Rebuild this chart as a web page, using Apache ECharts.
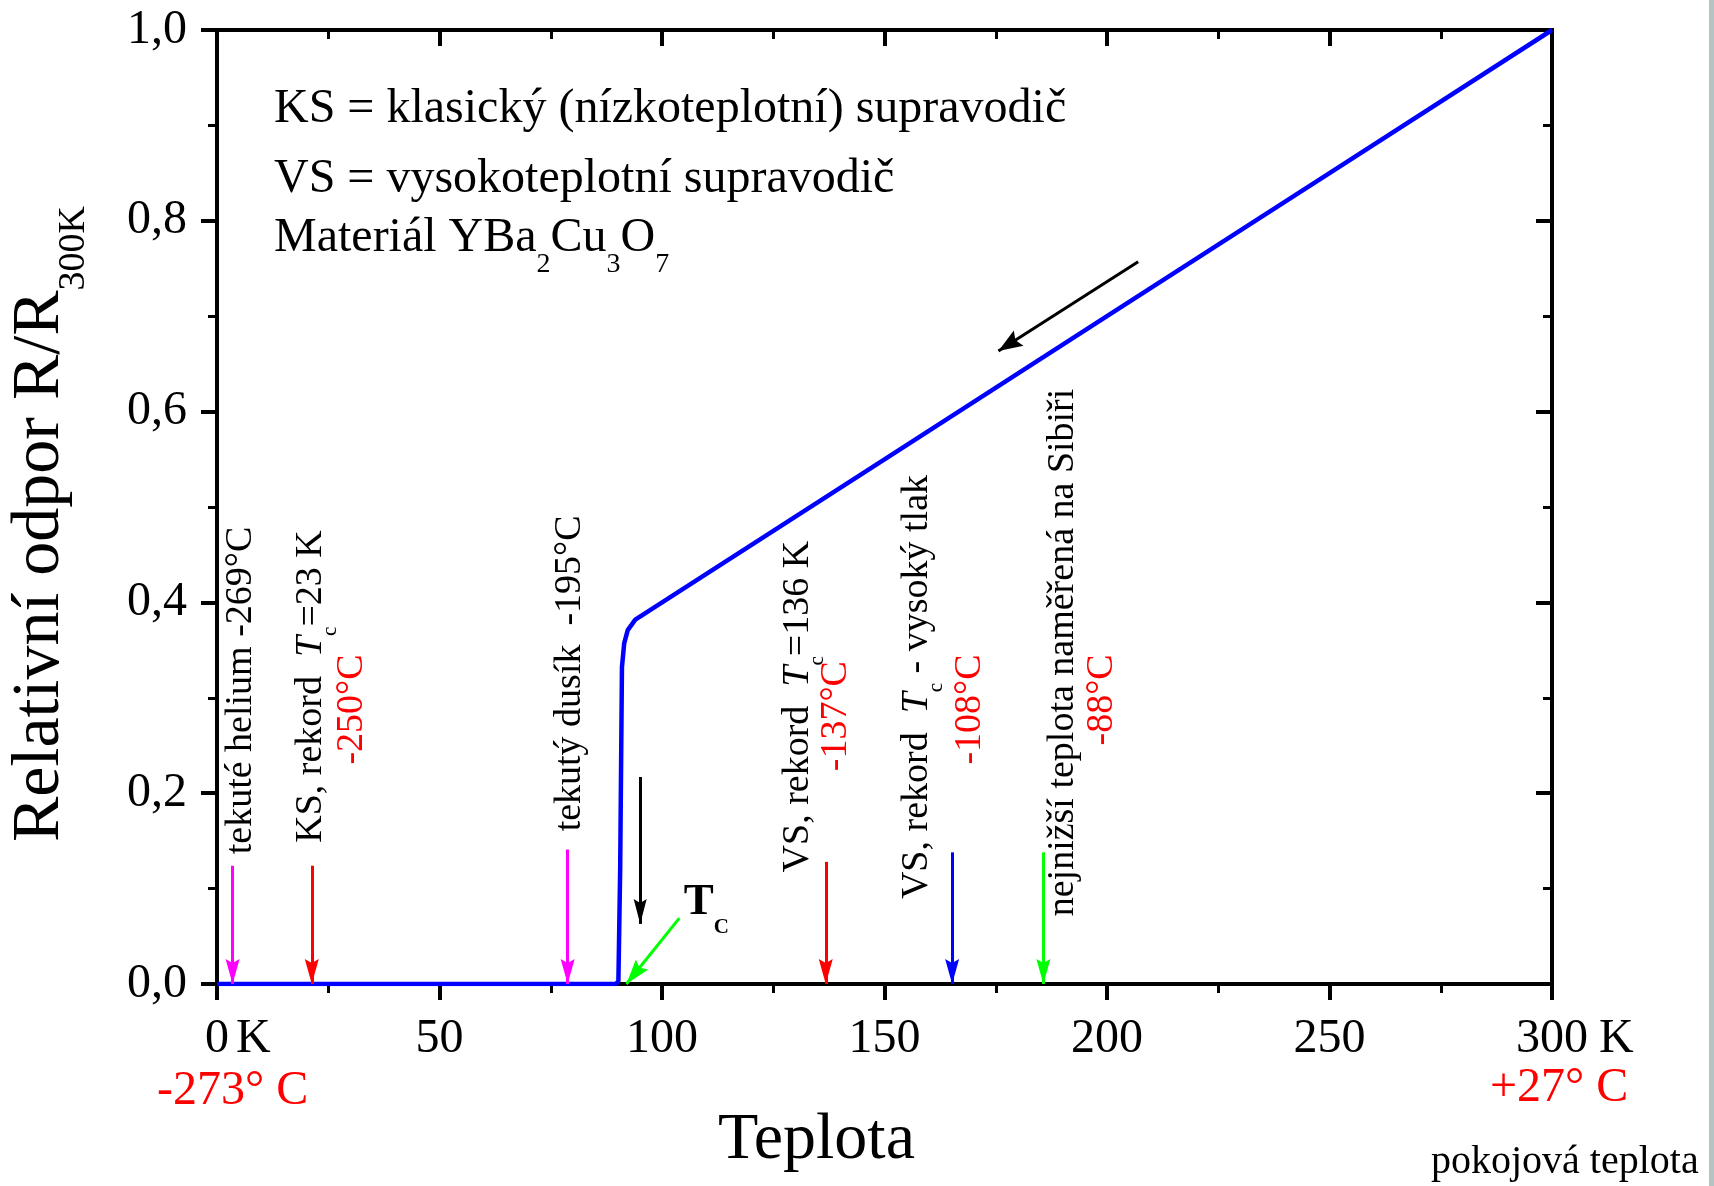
<!DOCTYPE html>
<html>
<head>
<meta charset="utf-8">
<script src="https://cdn.jsdelivr.net/npm/echarts@6/dist/echarts.min.js"></script>
<style>
html,body{margin:0;padding:0;background:#fff;}
#c{width:1714px;height:1186px;}
</style>
</head>
<body>
<div id="c"></div>
<script>
// ---- data ----
const temperatureK = [0, 89.7, 90.2, 90.6, 91.0, 91.5, 92.3, 94.0, 150, 200, 250, 300];
const relResistance = [0, 0, 0.003, 0.12, 0.332, 0.357, 0.371, 0.382, 0.55, 0.70, 0.85, 1.0];
const xTickValues = [0, 50, 100, 150, 200, 250, 300];
const yTickValues = [0, 0.2, 0.4, 0.6, 0.8, 1.0];

// annotation arrows (data coordinates)
const arrowT0 = [3.5, 21.3, 78.8, 136.8, 165.2, 185.7, 95.1, 103.9, 207.0];
const arrowR0 = [0.124, 0.124, 0.141, 0.128, 0.138, 0.138, 0.217, 0.069, 0.757];
const arrowT1 = [3.5, 21.3, 78.8, 136.8, 165.2, 185.7, 95.1, 92.0, 175.6];
const arrowR1 = [0, 0, 0, 0, 0, 0, 0.063, 0, 0.6635];

// annotation texts (anchor = start of the vertical text, data coordinates)
const noteText = [
  'tekuté helium -269°C',
  '{n|KS, rekord  }{i|T}{s|c}{n|=23 K}',
  '-250°C',
  'tekutý dusík  -195°C',
  '{n|VS, rekord  }{i|T}{s|c}{n|=136 K}',
  '-137°C',
  '{n|VS, rekord  }{i|T}{s|c}{n| - vysoký tlak}',
  '-108°C',
  'nejnižší teplota naměřená na Sibiři',
  '-88°C'
];
const noteT = [5.4, 21.1, 30.3, 79.3, 130.6, 139.2, 157.3, 169.2, 190.2, 198.8];
const noteR = [0.136, 0.148, 0.23, 0.16, 0.117, 0.223, 0.089, 0.23, 0.071, 0.25];
const tcLabelT = 104.9, tcLabelR = 0.0856;

// ---- styles ----
const FONT = '"Liberation Serif", "Times New Roman", serif';
const arrowColor = ['#ff00ff', '#ff0000', '#ff00ff', '#ff0000', '#0000ff', '#00ff00', '#000000', '#00ff00', '#000000'];
const arrowHead = [[14,25],[14,25],[14,25],[14,25],[14,25],[14,25],[13,25],[16,25],[18,24]];
const noteColor = ['#000','#000','#f00','#000','#000','#f00','#000','#f00','#000','#f00'];
const ARROW = 'path://M0,25 L7,0 L14,25 L7,21 Z';

const chart = echarts.init(document.getElementById('c'), null, {renderer: 'canvas', width: 1714, height: 1186});

const fmtY = v => v.toFixed(1).replace('.', ',');
const fmtX = v => v === 0 ? '{p0|}{n|0}{k0|K}' : (v === 300 ? '{p3|}{n|300}{k3|K}' : '{n|' + v + '}');

function axisBase(pos, inside) {
  return {
    type: 'value',
    position: pos,
    axisLine: {show: true, onZero: false, lineStyle: {color: '#000', width: 4, cap: 'square'}},
    axisTick: {show: true, inside: inside, length: 16, lineStyle: {color: '#000', width: 4}},
    minorTick: {show: true, splitNumber: 2, length: 9, lineStyle: {color: '#000', width: 3}},
    splitLine: {show: false},
    minorSplitLine: {show: false}
  };
}
const lblText = {fontSize: 48, fontFamily: FONT, color: '#000'};

const xBottom = Object.assign(axisBase('bottom', false), {
  min: xTickValues[0], max: xTickValues[xTickValues.length - 1], interval: xTickValues[1] - xTickValues[0],
  axisLabel: {
    show: true, margin: 31, color: '#000', fontFamily: FONT, fontSize: 48, formatter: fmtX,
    rich: {
      n: lblText,
      p0: {width: 41.7, height: 10},
      k0: Object.assign({padding: [0, 0, 0, 7]}, lblText),
      p3: {width: 45.7, height: 10},
      k3: Object.assign({padding: [0, 0, 0, 11]}, lblText)
    }
  }
});
const xTop = Object.assign(axisBase('top', true), {
  min: xTickValues[0], max: xTickValues[xTickValues.length - 1], interval: xTickValues[1] - xTickValues[0],
  axisLabel: {show: false}
});
const yLeft = Object.assign(axisBase('left', false), {
  min: yTickValues[0], max: yTickValues[yTickValues.length - 1], interval: yTickValues[1] - yTickValues[0],
  axisLabel: {show: true, margin: 30, color: '#000', fontFamily: FONT, fontSize: 48, formatter: fmtY}
});
const yRight = Object.assign(axisBase('right', true), {
  min: yTickValues[0], max: yTickValues[yTickValues.length - 1], interval: yTickValues[1] - yTickValues[0],
  axisLabel: {show: false}
});

const arrowLines = arrowT0.map((t, i) => [
  {coord: [arrowT0[i], arrowR0[i]], symbol: 'none'},
  {coord: [arrowT1[i], arrowR1[i]], symbol: ARROW, symbolSize: arrowHead[i],
   symbolOffset: [0, arrowHead[i][1] / 2],
   lineStyle: {color: arrowColor[i], width: 3, type: 'solid'}}
]);

chart.setOption({
  animation: false,
  backgroundColor: '#ffffff',
  grid: {left: 217, right: 162, top: 30, bottom: 202, containLabel: false, outerBoundsMode: 'none'},
  xAxis: [xBottom, xTop],
  yAxis: [yLeft, yRight],
  series: [{
    type: 'line',
    xAxisIndex: 0, yAxisIndex: 0,
    data: temperatureK.map((t, i) => [t, relResistance[i]]),
    showSymbol: false, symbol: 'none', smooth: false,
    lineStyle: {color: '#0000ff', width: 4.5},
    emphasis: {disabled: true},
    silent: true,
    z: 3,
    markLine: {
      silent: true, animation: false,
      symbol: ['none', 'none'],
      label: {show: false},
      emphasis: {disabled: true},
      data: arrowLines
    }
  }]
});

// ---- text elements ----
function richStyle(size, color, extra) {
  return Object.assign({fontSize: size, fontFamily: FONT, fill: color}, extra || {});
}
const toPx = (t, r) => chart.convertToPixel({xAxisIndex: 0, yAxisIndex: 0}, [t, r]);

const elements = [];
// grey strip on the right edge
elements.push({type: 'rect', shape: {x: 1709, y: 0, width: 5, height: 1186}, style: {fill: '#b4c3c4'}, silent: true});

function addText(x, y, text, rich, rotation) {
  elements.push({
    type: 'text', x: x, y: y, rotation: rotation || 0, silent: true,
    style: {text: text, rich: rich, align: 'left', verticalAlign: 'middle',
            textAlign: 'left', textVerticalAlign: 'middle',
            fontFamily: FONT, fontSize: 48, fill: '#000'}
  });
}

// text block
addText(274, 109.6, '{n|KS = klasický (nízkoteplotní) supravodič}', {n: richStyle(48, '#000')});
addText(274, 179.6, '{n|VS = vysokoteplotní supravodič}', {n: richStyle(48, '#000')});
addText(274, 238.6, '{n|Materiál YBa}{s|2}{n|Cu}{s|3}{n|O}{s|7}',
  {n: richStyle(48, '#000'), s: richStyle(28, '#000', {padding: [53, 0, 0, 0]})});

// y axis title
addText(40, 842, '{n|Relativní odpor R/R}{s|300K}',
  {n: richStyle(68, '#000'), s: richStyle(38, '#000', {padding: [69, 0, 0, 0]})}, Math.PI / 2);

// x axis title and extra labels
addText(718, 1141, '{n|Teplota}', {n: richStyle(66, '#000')});
addText(157, 1091, '{n|-273° C}', {n: richStyle(48, '#ff0000')});
addText(1490, 1088, '{n|+27° C}', {n: richStyle(48, '#ff0000')});
addText(1431, 1162, '{n|pokojová teplota}', {n: richStyle(40, '#000')});

// T_C label
const tcPx = toPx(tcLabelT, tcLabelR);
addText(tcPx[0], tcPx[1], '{t|T}{c|C}',
  {t: richStyle(45, '#000', {fontWeight: 'bold'}), c: richStyle(21, '#000', {fontWeight: 'bold', padding: [50, 0, 0, 0]})});

// vertical annotations
noteText.forEach((txt, i) => {
  const p = toPx(noteT[i], noteR[i]);
  const text = txt.indexOf('{') === 0 ? txt : '{n|' + txt + '}';
  addText(p[0], p[1], text, {
    n: richStyle(38, noteColor[i]),
    i: richStyle(38, noteColor[i], {fontStyle: 'italic'}),
    s: richStyle(21, noteColor[i], {padding: [39, 0, 0, 0]})
  }, Math.PI / 2);
});

chart.setOption({graphic: {elements: elements}});
</script>
</body>
</html>
